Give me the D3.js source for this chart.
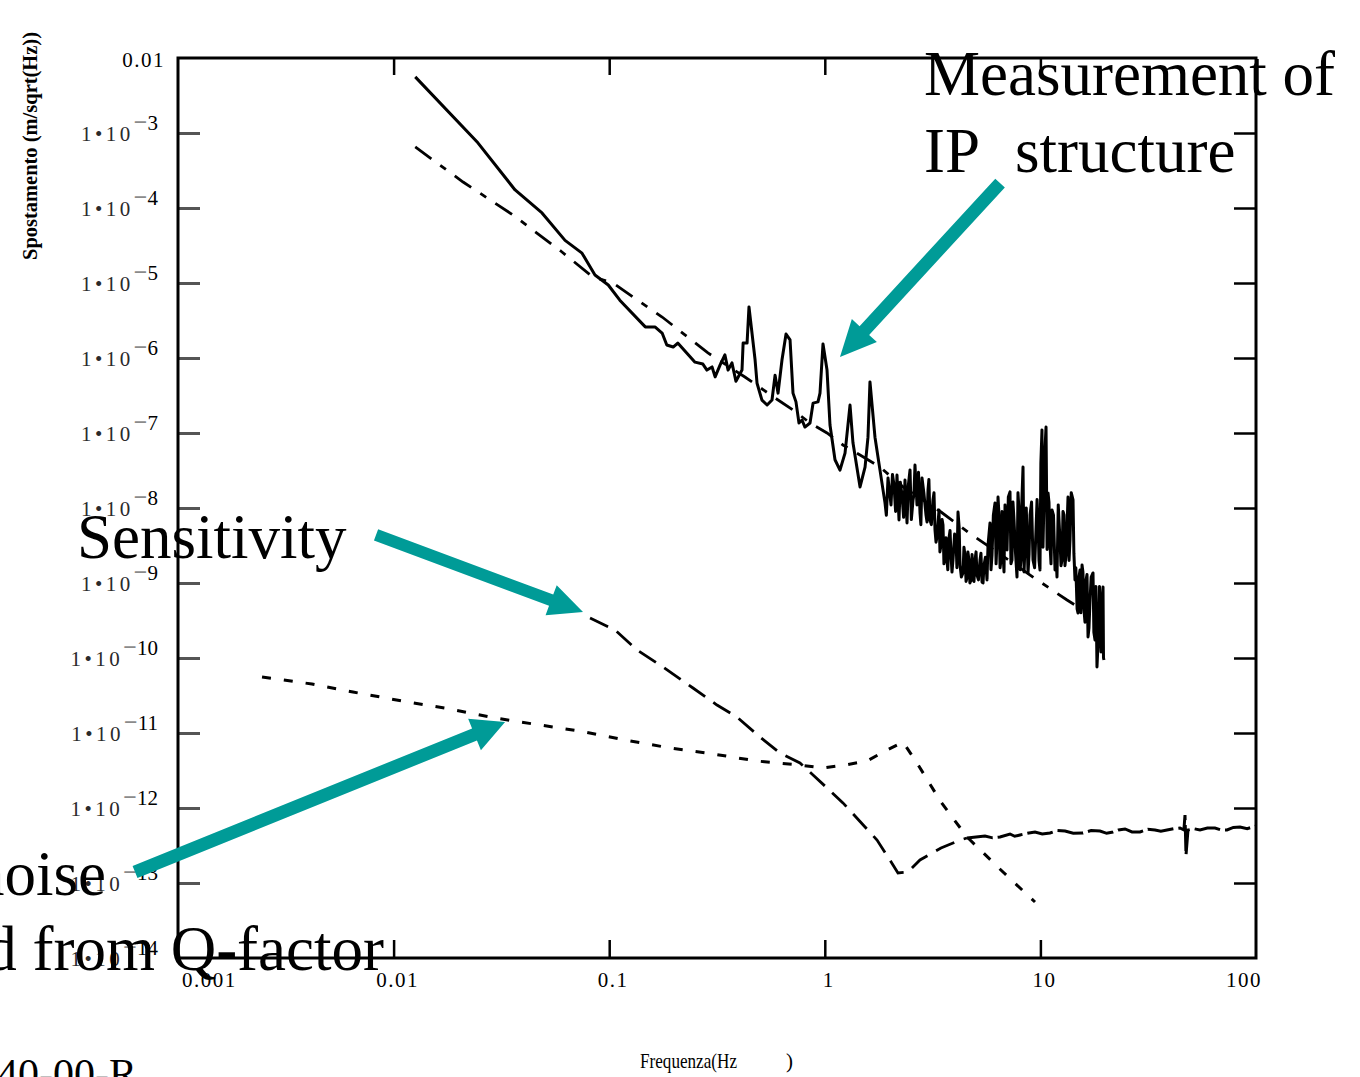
<!DOCTYPE html>
<html>
<head>
<meta charset="utf-8">
<script src="https://cdn.jsdelivr.net/npm/d3@7"></script>
<style>
  body { margin: 0; background: #fff; }
  svg { display: block; font-family: "Liberation Serif", "Times New Roman", serif; }
</style>
</head>
<body>
<svg id="chart" width="1360" height="1077"></svg>
<script>
// measured spectrum of the IP structure [Hz, m/sqrt(Hz)]
var measured = [
  [0.0126,5.6e-3],[0.0246,7.4e-4],[0.0366,1.74e-4],[0.0488,8.6e-5],[0.0624,3.7e-5],[0.0748,2.5e-5],
  [0.0859,1.28e-5],[0.099,9.4e-6],[0.112,5.9e-6],[0.147,2.6e-6],[0.163,2.6e-6],[0.176,2.15e-6],
  [0.185,1.49e-6],[0.198,1.40e-6],[0.208,1.58e-6],[0.250,8.8e-7],[0.272,8.3e-7],[0.284,6.9e-7],
  [0.300,7.6e-7],[0.310,5.6e-7],[0.327,8.1e-7],[0.344,1.10e-6],[0.356,6.9e-7],[0.371,8.6e-7],
  [0.387,4.9e-7],[0.413,6.9e-7],[0.418,1.58e-6],[0.436,1.58e-6],[0.445,4.8e-6],[0.475,9.4e-7],
  [0.485,4.6e-7],[0.511,2.75e-7],[0.540,2.36e-7],[0.569,2.75e-7],[0.588,5.9e-7],[0.607,3.4e-7],
  [0.633,9.4e-7],[0.661,2.09e-6],[0.690,1.74e-6],[0.712,3.4e-7],[0.735,2.6e-7],[0.759,1.36e-7],
  [0.784,1.49e-7],[0.809,1.20e-7],[0.854,1.36e-7],[0.882,2.5e-7],[0.930,2.6e-7],[0.950,3.4e-7],
  [0.981,1.54e-6],[1.024,6.9e-7],[1.057,1.28e-7],[1.115,4.4e-8],[1.176,3.2e-8],[1.241,5.4e-8],
  [1.309,2.36e-7],[1.351,7.4e-8],[1.457,1.91e-8],[1.537,3.5e-8],[1.586,8.8e-8],[1.620,4.8e-7],
  [1.709,8.8e-8],[1.803,3.2e-8],[1.902,1.17e-8],[1.964,2.51e-8],[2.028,1.10e-8],[2.094,2.03e-8],
  [2.162,2.75e-8],[2.209,6.92e-9],[2.281,1.49e-8],[2.355,2.36e-8],[2.406,6.31e-9],[2.485,3.21e-8],
  [2.566,1.28e-8],[2.62,3.74e-8],[2.677,1.10e-8],[2.764,8.58e-9],[2.824,2.51e-8],[2.947,8.06e-9],
  [3.011,1.74e-8],[3.075,6.92e-9],[3.175,1.28e-8],[3.244,5.09e-9],[3.315,4.11e-9],[3.386,9.40e-9],
  [3.459,3.21e-9],[3.534,5.93e-9],[3.610,2.36e-9],[3.688,2.03e-9],[3.768,3.98e-9],[3.849,2.36e-9],
  [3.932,2.03e-9],[4.061,3.74e-9],[4.148,8.84e-9],[4.238,1.74e-9],[4.375,1.36e-9],[4.469,2.36e-9],
  [4.566,1.17e-9],[4.664,2.03e-9],[4.765,1.10e-9],[4.868,1.10e-9],[4.974,2.03e-9],[5.081,1.28e-9],
  [5.248,2.03e-9],[5.36,1.03e-9],[5.476,1.74e-9],[5.654,1.10e-9],[5.715,3.21e-9],[5.838,6.31e-9],
  [5.965,2.36e-9],[6.159,1.17e-8],[6.292,3.74e-9],[6.427,8.06e-9],[6.567,2.03e-9],[6.708,2.51e-9],
  [6.853,1.10e-8],[7.001,2.75e-9],[7.228,1.64e-8],[7.385,2.03e-9],[7.545,6.92e-9],[7.79,1.20e-9],
  [7.957,9.40e-9],[8.13,2.03e-9],[8.306,3.52e-8],[8.485,3.21e-9],[8.762,1.36e-9],[8.951,8.06e-9],
  [9.241,2.03e-9],[9.541,5.09e-9],[9.747,6.92e-9],[9.957,1.49e-9],[10.17,1.10e-7],[10.39,1.28e-8],
  [10.62,1.20e-7],[10.85,1.585e-8],[11.08,3.21e-9],[11.32,9.40e-9],[11.69,1.49e-9],[11.94,1.20e-9],
  [12.33,3.74e-9],[12.60,2.03e-9],[12.87,8.06e-9],[13.15,2.36e-9],[13.43,1.40e-8],[13.72,3.74e-9],
  [14.17,1.28e-8],[14.47,1.10e-9],[14.94,3.98e-10],[15.27,1.49e-9],[15.60,1.74e-9],[15.93,4.37e-10],
  [16.28,1.10e-9],[16.63,1.91e-10],[16.99,5.93e-10],[17.54,1.36e-9],[17.92,1.74e-10],[18.30,7.59e-11],
  [18.70,4.37e-10],[18.90,4.79e-10],[19.31,1.28e-10],[19.52,8.84e-10],[19.72,9.40e-11]
];
// extra samples read inside the dense (blackened) band between 2 and 20 Hz
var measuredExtra = [
  [1.93,8.0e-9],[2.06,2.8e-8],[2.13,9.0e-9],[2.24,2.2e-8],[2.32,7.5e-9],[2.44,2.0e-8],[2.52,7.0e-9],
  [2.59,1.5e-8],[2.72,3.0e-8],[2.79,6.0e-9],[2.88,1.6e-8],[2.98,6.5e-9],[3.04,2.4e-8],[3.12,6.0e-9],
  [3.21,1.6e-8],[3.28,3.5e-9],[3.42,2.6e-9],[3.50,7.0e-9],[3.57,1.8e-9],[3.65,4.0e-9],[3.72,1.5e-9],
  [3.81,5.0e-9],[3.89,1.4e-9],[4.0,4.5e-9],[4.1,1.6e-9],[4.2,5.5e-9],[4.3,1.2e-9],[4.42,3.0e-9],
  [4.52,1.05e-9],[4.61,2.6e-9],[4.71,1.0e-9],[4.82,2.4e-9],[4.92,1.05e-9],[5.03,2.6e-9],[5.16,1.1e-9],
  [5.3,2.5e-9],[5.42,1.0e-9],[5.56,2.2e-9],[5.9,1.5e-9],[6.05,8e-9],[6.23,1.8e-9],[6.36,1.4e-8],
  [6.5,1.6e-9],[6.64,9e-9],[6.78,1.4e-9],[6.93,5e-9],[7.1,1.4e-8],[7.3,1.8e-9],[7.46,1.2e-8],
  [7.66,2.6e-9],[7.87,1.6e-8],[8.05,1.5e-9],[8.2,1.2e-8],[8.4,1.4e-9],[8.6,1.0e-8],[8.86,2.4e-9],
  [9.1,1.2e-8],[9.4,1.6e-9],[9.65,1.3e-8],[9.85,2.0e-9],[10.05,4e-8],[10.28,3e-9],[10.5,6e-8],
  [10.74,2.8e-9],[10.96,1.2e-8],[11.2,1.8e-9],[11.5,8e-9],[11.8,2.5e-9],[12.1,1.1e-8],[12.46,1.7e-9],
  [12.73,9e-9],[13.0,1.7e-9],[13.3,6e-9],[13.58,2e-9],[13.9,1.6e-8],[14.3,2.5e-9],[14.6,1.6e-9],
  [14.8,4.5e-10],[15.1,1.2e-9],[15.4,4e-10],[15.75,1.4e-9],[16.1,3e-10],[16.45,1.3e-9],[16.8,2.5e-10],
  [17.2,1.2e-9],[17.7,2.2e-10],[18.1,9e-10],[18.5,1.5e-10],[18.8,9e-10],[19.1,1.2e-10],[19.42,7e-10],
  [19.62,1.0e-10]
];

// dash-dot curve following the measurement
var modelHigh = [
  [0.0126,6.51e-4],[0.0210,2.22e-4],[0.0358,8.06e-5],[0.0604,2.59e-5],[0.0841,1.20e-5],[0.1041,1.0e-5],
  [0.129,6.51e-6],[0.176,3.52e-6],[0.287,1.17e-6],[0.426,5.58e-7],[0.588,2.93e-7],[0.712,2.03e-7],
  [0.854,1.36e-7],[1.024,1.0e-7],[1.214,6.92e-8],[1.457,5.09e-8],[1.803,3.52e-8],[2.305,1.91e-8],
  [3.459,8.84e-9],[4.816,4.37e-9],[6.292,2.59e-9],[9.241,1.20e-9],[13.29,5.93e-10],[14.94,4.79e-10]
];

// sensitivity (long dashes), then its flat noisy high-frequency part
var sensitivity = [
  [0.0815,3.41e-10],[0.1064,2.36e-10],[0.1345,1.28e-10],[0.1776,7.59e-11],[0.2447,3.98e-11],
  [0.3162,2.36e-11],[0.3915,1.63e-11],[0.5005,8.84e-12],[0.6198,5.41e-12],[0.767,3.98e-12],
  [0.882,2.75e-12],[1.024,1.85e-12],[1.214,1.17e-12],[1.537,5.58e-13],[1.747,3.74e-13],
  [1.964,2.22e-13],[2.185,1.36e-13],[2.432,1.40e-13],[2.764,2.03e-13],[3.459,2.93e-13],
  [4.238,3.74e-13],[4.566,3.98e-13]
];
var sensitivityHF = [
  [4.566,3.98e-13],[5.534,4.23e-13],[6.0,4.0e-13],[6.496,4.11e-13],[7.228,4.50e-13],[7.6,4.2e-13],
  [8.043,4.37e-13],[8.7,4.6e-13],[9.44,4.79e-13],[10.2,4.5e-13],[11.08,4.64e-13],[12.0,5.0e-13],
  [13.01,4.94e-13],[14.2,4.6e-13],[15.76,4.64e-13],[17.2,5.0e-13],[18.90,4.94e-13],[20.3,4.6e-13],
  [21.71,4.79e-13],[23.0,5.1e-13],[24.69,5.25e-13],[26.6,4.8e-13],[28.97,4.79e-13],[31.5,5.2e-13],
  [34.01,5.09e-13],[36.2,4.9e-13],[38.66,5.09e-13],[41.4,5.3e-13],[44.41,5.41e-13],[46.3,5.09e-13],
  [46.85,8.06e-13],[47.35,2.36e-13],[48.37,5.09e-13],[51.5,5.3e-13],[55.0,5.09e-13],[59.5,5.4e-13],
  [64.53,5.41e-13],[69.0,5.1e-13],[73.38,5.09e-13],[78.5,5.5e-13],[84.32,5.58e-13],[91.0,5.3e-13],
  [100,5.75e-13]
];

// thermal noise estimated from the Q-factor (short dashes)
var thermalQ = [
  [0.002453,5.58e-11],[0.00418,4.50e-11],[0.00648,3.52e-11],[0.01094,2.67e-11],[0.0173,2.15e-11],
  [0.0280,1.63e-11],[0.0443,1.32e-11],[0.0732,1.06e-11],[0.1184,8.06e-12],[0.1914,6.31e-12],
  [0.303,5.25e-12],[0.485,4.23e-12],[0.767,3.74e-12],[0.981,3.41e-12],[1.241,3.74e-12],
  [1.569,4.23e-12],[1.944,5.93e-12],[2.305,7.59e-12],[2.677,3.98e-12],[3.459,1.20e-12],
  [4.566,4.11e-13],[6.708,1.40e-13],[9.44,5.58e-14]
];

var xTickVals = [0.001, 0.01, 0.1, 1, 10, 100];
var xTickLabels = ["0.001", "0.01", "0.1", "1", "10", "100"];
var yTickVals = [1e-2, 1e-3, 1e-4, 1e-5, 1e-6, 1e-7, 1e-8, 1e-9, 1e-10, 1e-11, 1e-12, 1e-13, 1e-14];
var yTickExps = ["", "3", "4", "5", "6", "7", "8", "9", "10", "11", "12", "13", "14"];

var svg = d3.select('#chart');
var plotL = 178, plotR = 1256, plotT = 58, plotB = 958;

var x = d3.scaleLog().domain([0.001, 100]).range([plotL, plotR]);
var y = d3.scaleLog().domain([1e-14, 1e-2]).range([plotB, plotT]);

// tick marks
svg.append('g').attr('transform', 'translate(' + plotL + ',0)')
  .call(d3.axisLeft(y).tickValues(yTickVals.slice(1, 12)).tickSize(-22).tickFormat(''))
  .call(function(g) {
    g.select('.domain').remove();
    g.selectAll('line').attr('stroke', '#555').attr('stroke-width', 3);
  });
svg.append('g').attr('transform', 'translate(' + plotR + ',0)')
  .call(d3.axisRight(y).tickValues(yTickVals.slice(1, 12)).tickSize(-22).tickFormat(''))
  .call(function(g) {
    g.select('.domain').remove();
    g.selectAll('line').attr('stroke', '#000').attr('stroke-width', 2.5);
  });
svg.append('g').attr('transform', 'translate(0,' + plotT + ')')
  .call(d3.axisTop(x).tickValues(xTickVals.slice(1, 5)).tickSize(-17).tickFormat(''))
  .call(function(g) {
    g.select('.domain').remove();
    g.selectAll('line').attr('stroke', '#000').attr('stroke-width', 2.5);
  });
svg.append('g').attr('transform', 'translate(0,' + plotB + ')')
  .call(d3.axisBottom(x).tickValues(xTickVals.slice(1, 5)).tickSize(-18).tickFormat(''))
  .call(function(g) {
    g.select('.domain').remove();
    g.selectAll('line').attr('stroke', '#000').attr('stroke-width', 2.5);
  });

// frame
svg.append('rect')
  .attr('x', plotL).attr('y', plotT)
  .attr('width', plotR - plotL).attr('height', plotB - plotT)
  .attr('fill', 'none').attr('stroke', '#000').attr('stroke-width', 3);

// y tick labels (1*10^-n)
yTickVals.forEach(function(v, i) {
  var t = svg.append('text')
    .attr('x', 158).attr('y', y(v) + 8)
    .attr('text-anchor', 'end')
    .attr('font-size', 21);
  if (i === 0) {
    t.attr('y', y(v) + 9).attr('x', 165).attr('letter-spacing', 1.5).text('0.01');
    return;
  }
  t.append('tspan').attr('fill', '#2a2a2a').attr('letter-spacing', 3.5).text('1\u202210');
  t.append('tspan').attr('dy', -11).attr('fill', '#8a8a8a').attr('font-size', 24).attr('font-weight', 'bold').text('\u2212');
  t.append('tspan').attr('fill', '#000').text(yTickExps[i]);
});

// x tick labels
xTickVals.forEach(function(v, i) {
  var t = svg.append('text')
    .attr('y', 987).attr('font-size', 21).attr('letter-spacing', 1.5)
    .text(xTickLabels[i]);
  if (i === 0) t.attr('x', 182).attr('text-anchor', 'start');
  else if (i === xTickVals.length - 1) t.attr('x', 1262).attr('text-anchor', 'end');
  else t.attr('x', x(v) + 4).attr('text-anchor', 'middle');
});

// axis titles
svg.append('text')
  .attr('x', 640).attr('y', 1068).attr('font-size', 21)
  .attr('textLength', 97).attr('lengthAdjust', 'spacingAndGlyphs')
  .text('Frequenza(Hz');
svg.append('text').attr('x', 786).attr('y', 1068).attr('font-size', 21).text(')');

svg.append('text')
  .attr('transform', 'translate(37,260) rotate(-90)')
  .attr('font-size', 20).attr('font-weight', 'bold')
  .attr('textLength', 228).attr('lengthAdjust', 'spacingAndGlyphs')
  .text('Spostamento (m/sqrt(Hz))');

// curves
svg.append('clipPath').attr('id', 'plotClip')
  .append('rect').attr('x', plotL).attr('y', plotT).attr('width', plotR - plotL).attr('height', plotB - plotT);

var line = d3.line()
  .x(function(d) { return x(d[0]); })
  .y(function(d) { return y(d[1]); });

var curves = svg.append('g').attr('clip-path', 'url(#plotClip)');

curves.append('path').datum(thermalQ)
  .attr('d', line).attr('fill', 'none').attr('stroke', '#000')
  .attr('stroke-width', 3).attr('stroke-dasharray', '9,13');
curves.append('path').datum(sensitivity)
  .attr('d', line).attr('fill', 'none').attr('stroke', '#000')
  .attr('stroke-width', 2.8).attr('stroke-dasharray', '20,10');
curves.append('path').datum(sensitivityHF)
  .attr('d', line).attr('fill', 'none').attr('stroke', '#000')
  .attr('stroke-width', 3).attr('stroke-dasharray', '26,5');
curves.append('path').datum(modelHigh)
  .attr('d', line).attr('fill', 'none').attr('stroke', '#000')
  .attr('stroke-width', 2.8).attr('stroke-dasharray', '20,11,7,11');
curves.append('path').datum(d3.sort(measured.concat(measuredExtra), function(d) { return d[0]; }))
  .attr('d', line).attr('fill', 'none').attr('stroke', '#000')
  .attr('stroke-width', 3).attr('stroke-linejoin', 'round');

// annotations
var teal = '#009b97';

function arrow(p0, p1, shaft, headLen, headW) {
  var x0 = x(p0[0]), y0 = y(p0[1]), x1 = x(p1[0]), y1 = y(p1[1]);
  var dx = x1 - x0, dy = y1 - y0, len = Math.sqrt(dx * dx + dy * dy);
  var ux = dx / len, uy = dy / len, nx = -uy, ny = ux;
  var bx = x1 - ux * headLen, by = y1 - uy * headLen;
  var pts = [
    [x0 + nx * shaft / 2, y0 + ny * shaft / 2],
    [bx + nx * shaft / 2, by + ny * shaft / 2],
    [bx + nx * headW / 2, by + ny * headW / 2],
    [x1, y1],
    [bx - nx * headW / 2, by - ny * headW / 2],
    [bx - nx * shaft / 2, by - ny * shaft / 2],
    [x0 - nx * shaft / 2, y0 - ny * shaft / 2]
  ];
  svg.append('polygon').attr('points', pts.map(function(p) { return p.join(','); }).join(' '))
    .attr('fill', teal);
}

var big = 63;
svg.append('text').attr('x', 924).attr('y', 95).attr('font-size', big).text('Measurement of');
svg.append('text').attr('x', 924).attr('y', 172).attr('font-size', big).text('IP');
svg.append('text').attr('x', 1015).attr('y', 172).attr('font-size', big).text('structure');
svg.append('text').attr('x', 77).attr('y', 558).attr('font-size', big).text('Sensitivity');
svg.append('text').attr('x', 106).attr('y', 895).attr('font-size', big).attr('text-anchor', 'end').text('Thermal noise');
svg.append('text').attr('x', 384).attr('y', 970).attr('font-size', big).attr('text-anchor', 'end').text('estimated from Q-factor');
svg.append('text').attr('x', 137).attr('y', 1088).attr('font-size', 42).attr('text-anchor', 'end').text('40-00-R');

arrow([6.5, 2.15e-4], [1.176, 1.03e-6], 13, 36, 34);
arrow([0.00829, 4.37e-9], [0.0756, 4.1e-10], 12, 34, 32);
arrow([0.000632, 1.4e-13], [0.0329, 1.4e-11], 13, 33, 34);
</script>
</body>
</html>
